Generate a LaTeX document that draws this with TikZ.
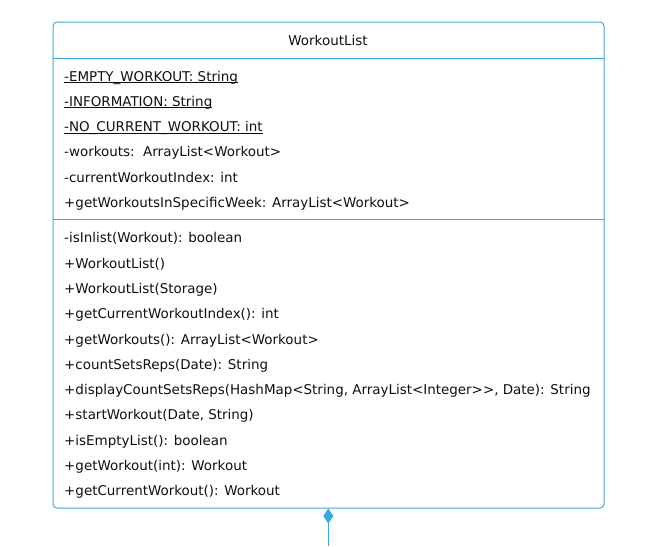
\documentclass[tikz,border=0pt]{standalone}
\usepackage{fontspec}
\setmainfont{DejaVu Sans}
\usetikzlibrary{arrows.meta}
\definecolor{umlblue}{RGB}{59,168,222}
\definecolor{umltext}{RGB}{15,15,15}
\newcommand{\ulmember}[1]{\underline{\smash{#1}}}
\tikzset{
  member/.style={anchor=base west, inner sep=0pt, font=\fontsize{13.45}{15}\selectfont, text=umltext},
  classbox/.style={draw=umlblue, line width=1pt, rounded corners=4pt, inner sep=0pt},
  sep/.style={draw=umlblue, line width=1pt},
}
\begin{document}
\begin{tikzpicture}[x=1pt,y=-1pt]
\useasboundingbox (0,0) rectangle (669,546);
\node[classbox, minimum width=551pt, minimum height=486pt, anchor=north west] (cls) at (52.5,21.5) {};
\node[member, anchor=base] (title) at (328,45.3) {WorkoutList};
\draw[sep] (52.5,58.5) -- (603.5,58.5);
\draw[sep] (52.5,219.5) -- (603.5,219.5);
\node[member] (a1) at (64,81) {\ulmember{-EMPTY\_WORKOUT: String}};
\node[member] (a2) at (64,106.2) {\ulmember{-INFORMATION: String}};
\node[member] (a3) at (64,131.5) {\ulmember{-NO\_CURRENT\_WORKOUT: int}};
\node[member] (a4) at (64,156.8) {-workouts:\ \ ArrayList<Workout>};
\node[member] (a5) at (64,182) {-currentWorkoutIndex: int};
\node[member] (a6) at (64,207.2) {+getWorkoutsInSpecificWeek: ArrayList<Workout>};
\node[member] (m1) at (64,242.8) {-isInlist(Workout): boolean};
\node[member] (m2) at (64,268.1) {+WorkoutList()};
\node[member] (m3) at (64,293.4) {+WorkoutList(Storage)};
\node[member] (m4) at (64,318.7) {+getCurrentWorkoutIndex(): int};
\node[member] (m5) at (64,344) {+getWorkouts(): ArrayList<Workout>};
\node[member] (m6) at (64,369.3) {+countSetsReps(Date): String};
\node[member] (m7) at (64,394.6) {+displayCountSetsReps(HashMap<String, ArrayList<Integer>{}>, Date): String};
\node[member] (m8) at (64,419.9) {+startWorkout(Date, String)};
\node[member] (m9) at (64,445.2) {+isEmptyList(): boolean};
\node[member] (m10) at (64,470.5) {+getWorkout(int): Workout};
\node[member] (m11) at (64,495.8) {+getCurrentWorkout(): Workout};
\coordinate (end) at (328.3,546);
\draw[umlblue, line width=1pt, {Diamond[length=15pt,width=10pt,fill=umlblue]}-] (cls.south -| end) -- (end);
\end{tikzpicture}
\end{document}
